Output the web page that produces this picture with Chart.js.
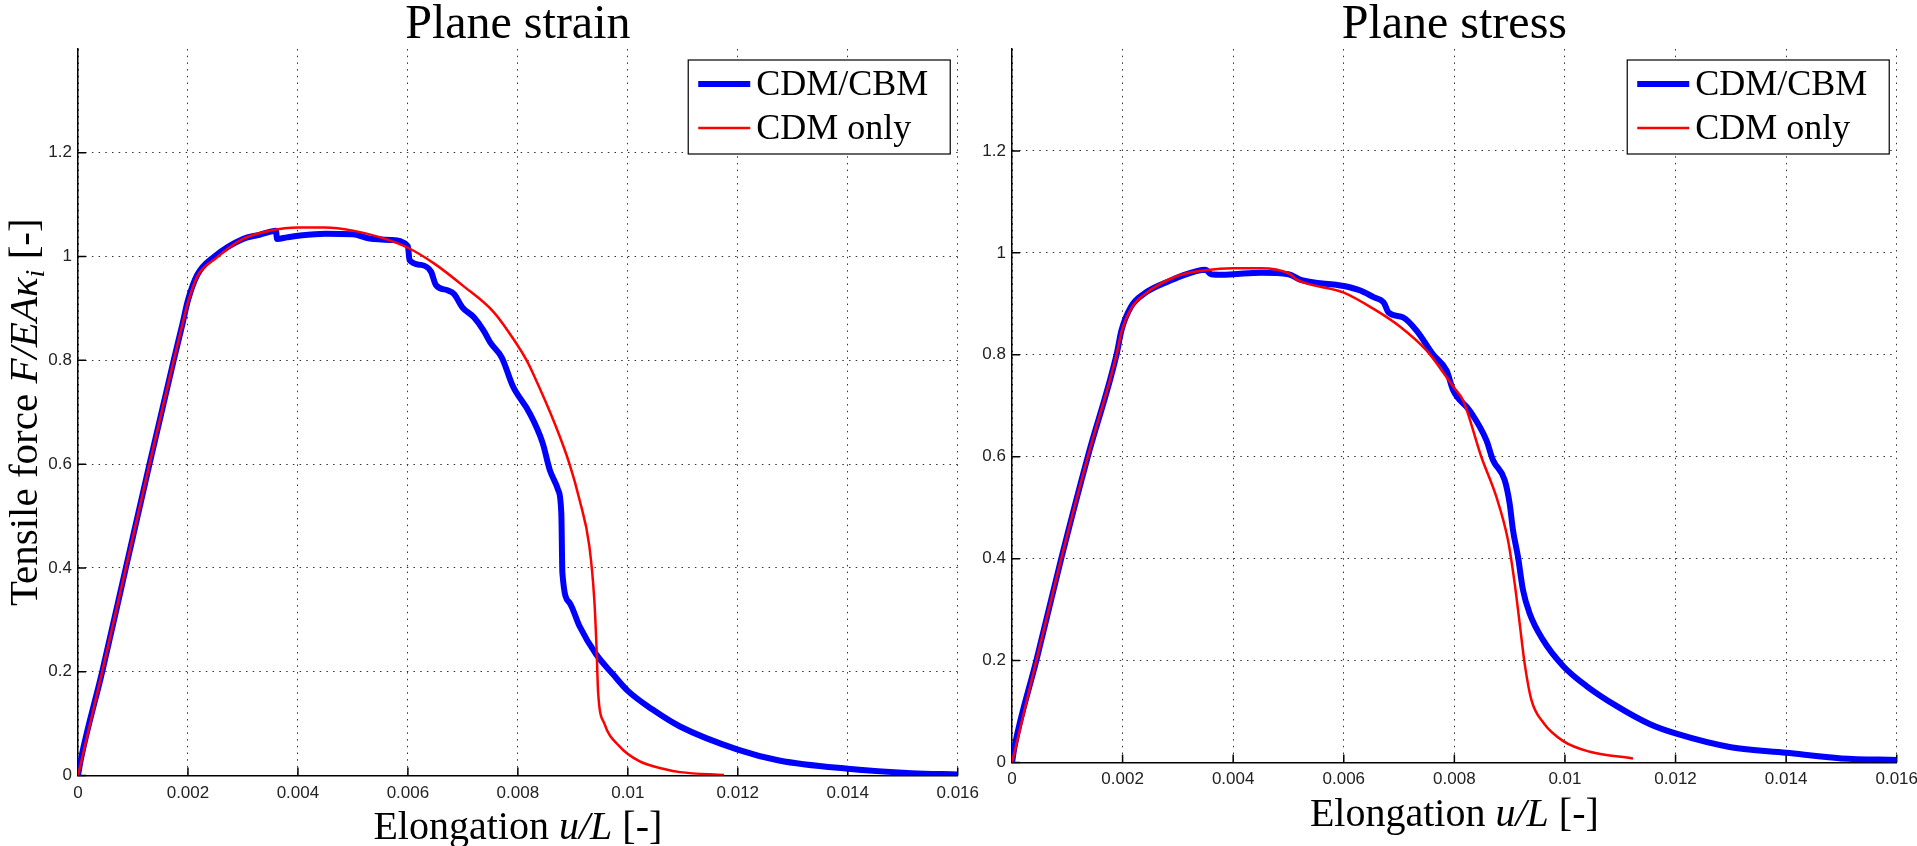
<!DOCTYPE html>
<html>
<head>
<meta charset="utf-8">
<title>Tensile force vs elongation</title>
<script src="https://cdn.jsdelivr.net/npm/chart.js@4.4.1/dist/chart.umd.min.js"></script>
<style>
  html, body { margin: 0; padding: 0; background: #fff; }
  #wrap { position: relative; width: 1917px; height: 846px; overflow: hidden; }
  #strain { position: absolute; left: 0; top: 0; z-index: 2; }
  #stress { position: absolute; left: 958px; top: 0; z-index: 1; }
</style>
</head>
<body>
<div id="wrap">
  <canvas id="strain" width="987" height="846"></canvas>
  <canvas id="stress" width="967" height="846"></canvas>
</div>
<script>
// axis ticks
const xTicks = [0, 0.002, 0.004, 0.006, 0.008, 0.01, 0.012, 0.014, 0.016];
const xTickLabels = ["0", "0.002", "0.004", "0.006", "0.008", "0.01", "0.012", "0.014", "0.016"];
const yTicks = [0, 0.2, 0.4, 0.6, 0.8, 1, 1.2];
const yTickLabels = ["0", "0.2", "0.4", "0.6", "0.8", "1", "1.2"];
const seriesNames = ["CDM/CBM", "CDM only"];

// plane strain
const strainCbmX = [0, 0.00005, 0.00044, 0.00087, 0.0013, 0.00174, 0.0019, 0.002, 0.00217, 0.00248, 0.003, 0.0033, 0.0035, 0.0036, 0.00362, 0.0038, 0.004, 0.0045, 0.005, 0.0053, 0.0057, 0.006, 0.00603, 0.00624, 0.00642, 0.00651, 0.00672, 0.00684, 0.00699, 0.0072, 0.00738, 0.0075, 0.00771, 0.00791, 0.00821, 0.00845, 0.00858, 0.00873, 0.00879, 0.00881, 0.00894, 0.00912, 0.00942, 0.00973, 0.01, 0.01045, 0.01094, 0.012, 0.01275, 0.014, 0.01516, 0.016];
const strainCbmY = [0, 0.03, 0.2, 0.4, 0.6, 0.8, 0.87, 0.916, 0.965, 1.0, 1.034, 1.042, 1.048, 1.05, 1.034, 1.037, 1.04, 1.044, 1.043, 1.035, 1.032, 1.02, 0.993, 0.984, 0.971, 0.945, 0.935, 0.928, 0.902, 0.883, 0.857, 0.834, 0.805, 0.75, 0.699, 0.641, 0.589, 0.551, 0.506, 0.39, 0.333, 0.288, 0.234, 0.195, 0.163, 0.127, 0.095, 0.05, 0.029, 0.013, 0.0045, 0.002];
const strainCdmX = [0, 0.00044, 0.00087, 0.0013, 0.00174, 0.0019, 0.002, 0.00217, 0.0025, 0.003, 0.0035, 0.004, 0.0045, 0.005, 0.0055, 0.006, 0.0065, 0.007, 0.00756, 0.00797, 0.00816, 0.00827, 0.00869, 0.00894, 0.00912, 0.0093, 0.00939, 0.00943, 0.00946, 0.00957, 0.00984, 0.0102, 0.01068, 0.01095, 0.01175];
const strainCdmY = [0, 0.2, 0.4, 0.6, 0.8, 0.87, 0.912, 0.962, 0.996, 1.034, 1.05, 1.056, 1.056, 1.05, 1.037, 1.017, 0.985, 0.944, 0.893, 0.833, 0.8, 0.776, 0.673, 0.6, 0.532, 0.442, 0.339, 0.249, 0.16, 0.101, 0.057, 0.028, 0.012, 0.0065, 0.001];

// plane stress
const stressCbmX = [0, 0.00005, 0.00044, 0.00089, 0.00137, 0.00189, 0.00198, 0.00215, 0.00239, 0.00287, 0.003, 0.0035, 0.0036, 0.0038, 0.004, 0.0045, 0.005, 0.00522, 0.006, 0.0063, 0.00654, 0.00672, 0.00681, 0.00708, 0.00732, 0.00762, 0.00786, 0.00798, 0.00828, 0.00858, 0.0087, 0.00891, 0.009, 0.00906, 0.00915, 0.00924, 0.00936, 0.0096, 0.00997, 0.01039, 0.01093, 0.01154, 0.012, 0.013, 0.014, 0.015, 0.016];
const stressCbmY = [0, 0.033, 0.2, 0.4, 0.6, 0.8, 0.848, 0.894, 0.92, 0.946, 0.952, 0.967, 0.958, 0.957, 0.958, 0.961, 0.958, 0.947, 0.935, 0.926, 0.913, 0.903, 0.883, 0.873, 0.847, 0.8, 0.769, 0.73, 0.69, 0.632, 0.593, 0.554, 0.508, 0.456, 0.404, 0.339, 0.293, 0.241, 0.189, 0.15, 0.111, 0.075, 0.057, 0.03, 0.019, 0.008, 0.005];
const stressCdmX = [0, 0.00044, 0.00089, 0.00137, 0.00189, 0.00198, 0.00215, 0.00239, 0.003, 0.0035, 0.004, 0.0045, 0.005, 0.00516, 0.006, 0.00654, 0.00702, 0.0075, 0.00786, 0.008, 0.00816, 0.00849, 0.00876, 0.00897, 0.00909, 0.00918, 0.00927, 0.00939, 0.00961, 0.00997, 0.01045, 0.01123];
const stressCdmY = [0, 0.2, 0.4, 0.6, 0.8, 0.845, 0.89, 0.918, 0.955, 0.966, 0.97, 0.97, 0.96, 0.947, 0.922, 0.89, 0.855, 0.808, 0.756, 0.735, 0.71, 0.599, 0.521, 0.436, 0.352, 0.274, 0.195, 0.124, 0.078, 0.042, 0.021, 0.008];

const serif = "'Liberation Serif', 'Times New Roman', serif";
const tickFont = { family: "'Liberation Sans', Arial, sans-serif", size: 17 };

const pairs = (xs, ys) => xs.map((x, i) => ({ x: x, y: ys[i] }));

function drawRich(ctx, parts, cx, y) {
  let w = 0;
  parts.forEach(p => { ctx.font = p.font; w += ctx.measureText(p.t).width; });
  let x = cx - w / 2;
  parts.forEach(p => {
    ctx.font = p.font;
    ctx.fillText(p.t, x, y + (p.dy || 0));
    x += ctx.measureText(p.t).width;
  });
}

const xLabelParts = [
  { t: "Elongation ", font: "40px " + serif },
  { t: "u/L", font: "italic 40px " + serif },
  { t: " [-]", font: "40px " + serif },
];
const yLabelParts = [
  { t: "Tensile force ", font: "41px " + serif },
  { t: "F/EA\u03BA", font: "italic 41px " + serif },
  { t: "i", font: "italic 28px " + serif, dy: 7 },
  { t: " [-]", font: "41px " + serif },
];

// axis labels, inner tick marks and boxed legend, drawn MATLAB style
const figureExtras = {
  id: "figureExtras",
  beforeDatasetsDraw(chart) {
    const { ctx, chartArea: a, scales } = chart;
    ctx.save();
    ctx.strokeStyle = "#000";
    ctx.lineWidth = 1.5;
    ctx.beginPath();
    xTicks.forEach(v => {
      const px = scales.x.getPixelForValue(v);
      ctx.moveTo(px, a.bottom);
      ctx.lineTo(px, a.bottom - 8);
    });
    yTicks.forEach(v => {
      const py = scales.y.getPixelForValue(v);
      ctx.moveTo(a.left, py);
      ctx.lineTo(a.left + 8, py);
    });
    ctx.stroke();
    ctx.restore();
  },
  afterDraw(chart, args, opts) {
    const { ctx, chartArea: a } = chart;
    ctx.save();
    ctx.fillStyle = "#000";
    ctx.textBaseline = "alphabetic";
    drawRich(ctx, xLabelParts, (a.left + a.right) / 2, a.bottom + 63.5);
    if (opts.yLabel) {
      ctx.save();
      ctx.translate(37, (a.top + a.bottom) / 2);
      ctx.rotate(-Math.PI / 2);
      drawRich(ctx, yLabelParts, 0, 0);
      ctx.restore();
    }
    // legend box
    const bw = 262, bh = 94;
    const bx = a.right - 7.5 - bw, by = a.top + 11;
    ctx.fillStyle = "#fff";
    ctx.fillRect(bx, by, bw, bh);
    ctx.strokeStyle = "#000";
    ctx.lineWidth = 1.2;
    ctx.strokeRect(bx, by, bw, bh);
    const order = [1, 0]; // CDM/CBM first, CDM only second
    order.forEach((di, row) => {
      const ds = chart.data.datasets[di];
      const ly = by + 24 + row * 44;
      ctx.strokeStyle = ds.borderColor;
      ctx.lineWidth = ds.borderWidth;
      ctx.beginPath();
      ctx.moveTo(bx + 10, ly);
      ctx.lineTo(bx + 62, ly);
      ctx.stroke();
      ctx.fillStyle = "#000";
      ctx.font = "36px " + serif;
      ctx.fillText(ds.label, bx + 68, by + 35 + row * 44);
    });
    ctx.restore();
  }
};

function makeChart(id, title, cbmX, cbmY, cdmX, cdmY, lay) {
  return new Chart(document.getElementById(id), {
    type: "line",
    data: {
      datasets: [
        {
          label: seriesNames[1],
          data: pairs(cdmX, cdmY),
          borderColor: "#ff0000",
          borderWidth: 2.5,
          pointRadius: 0,
          cubicInterpolationMode: "monotone",
          order: 1,
        },
        {
          label: seriesNames[0],
          data: pairs(cbmX, cbmY),
          borderColor: "#0000ff",
          borderWidth: 6,
          pointRadius: 0,
          cubicInterpolationMode: "monotone",
          order: 2,
        },
      ],
    },
    options: {
      responsive: false,
      animation: false,
      events: [],
      layout: { padding: { left: 0, right: 0, top: 0, bottom: 0 } },
      plugins: {
        legend: { display: false },
        tooltip: { enabled: false },
        title: {
          display: true,
          text: title,
          fullSize: false,
          color: "#000",
          font: { family: serif, size: 48, weight: "normal", lineHeight: 1.0 },
          padding: { top: 1, bottom: 0 },
        },
        figureExtras: { yLabel: lay.yLabel },
      },
      scales: {
        x: {
          type: "linear",
          min: 0,
          max: 0.016,
          afterBuildTicks: s => { s.ticks = xTicks.map(v => ({ value: v })); },
          afterFit: s => { s.height = lay.xAxisHeight; },
          ticks: {
            callback: (v, i) => xTickLabels[i],
            font: tickFont,
            color: "#222",
            padding: lay.xPad,
            maxRotation: 0,
            autoSkip: false,
          },
          grid: { color: "#333", lineWidth: 1, drawTicks: false },
          border: { display: true, color: "#000", width: 1.5, dash: [1.5, 5.2] },
        },
        y: {
          type: "linear",
          min: 0,
          max: 1.4,
          afterBuildTicks: s => { s.ticks = yTicks.map(v => ({ value: v })); },
          afterFit: s => { s.width = lay.yAxisWidth; },
          ticks: {
            callback: (v, i) => yTickLabels[i],
            font: tickFont,
            color: "#222",
            padding: 6,
            autoSkip: false,
          },
          grid: { color: "#333", lineWidth: 1, drawTicks: false },
          border: { display: true, color: "#000", width: 1.5, dash: [1.5, 5.2] },
        },
      },
    },
    plugins: [figureExtras],
  });
}

makeChart("strain", "Plane strain", strainCbmX, strainCbmY, strainCdmX, strainCdmY,
  { yAxisWidth: 78, xAxisHeight: 70.5, xPad: 8, yLabel: true });
makeChart("stress", "Plane stress", stressCbmX, stressCbmY, stressCdmX, stressCdmY,
  { yAxisWidth: 54, xAxisHeight: 83.5, xPad: 7, yLabel: false });
</script>
</body>
</html>
